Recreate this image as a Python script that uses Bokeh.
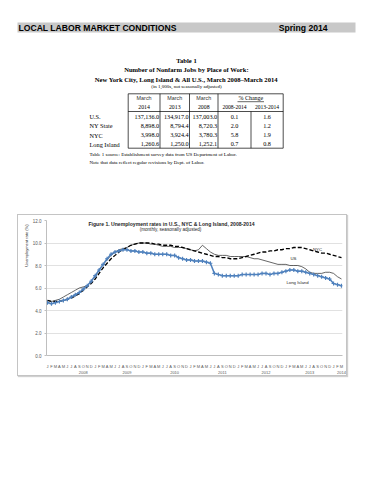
import numpy as np
from bokeh.plotting import figure
from bokeh.models import Range1d, FixedTicker, Label, Spacer, NumeralTickFormatter, Title
from bokeh.layouts import column, row
from bokeh.embed import file_html
from bokeh.resources import INLINE
from bokeh.core.properties import value

# ---------------- data ----------------
page_title = "LOCAL LABOR MARKET CONDITIONS"
page_season = "Spring 2014"
table_titles = ["Table 1", "Number of Nonfarm Jobs by Place of Work:",
                "New York City, Long Island & All U.S., March 2008\u2013March 2014"]
table_subtitle = "(in 1,000s, not seasonally adjusted)"
col_months = ["March", "March", "March"]
col_years = ["2014", "2013", "2008"]
chg_header = "% Change"
chg_periods = ["2008-2014", "2013-2014"]
regions = ["U.S.", "NY State", "NYC", "Long Island"]
jobs_2014 = [137136.0, 8898.0, 3998.0, 1260.6]
jobs_2013 = [134917.0, 8794.4, 3924.4, 1250.0]
jobs_2008 = [137003.0, 8720.3, 3780.3, 1252.1]
chg_0814 = [0.1, 2.0, 5.8, 0.7]
chg_1314 = [1.6, 1.2, 1.9, 0.8]
notes = ["Table 1 source: Establishment survey data from US Department of Labor.",
         "Note that data reflect regular revisions by Dept. of Labor."]

chart_title = "Figure 1. Unemployment rates in U.S., NYC & Long Island, 2008-2014"
chart_subtitle = "(monthly, seasonally adjusted)"
y_title = "Unemployment rate (%)"
month_letters = list("JFMAMJJASOND") * 6 + list("JFM")
years = ["2008", "2009", "2010", "2011", "2012", "2013", "2014"]
year_label_month = [9, 20, 32, 44, 55, 66, 74]
y_ticks = [0, 2, 4, 6, 8, 10, 12]

us = [4.9, 4.8, 4.9, 5.0, 5.2, 5.4, 5.6, 5.8, 6.0, 6.1, 6.2, 6.6,
      7.0, 7.6, 8.1, 8.5, 8.9, 9.2, 9.4, 9.5, 9.6, 9.8, 9.9, 10.0,
      10.0, 10.0, 9.9, 9.9, 9.8, 9.7, 9.7, 9.7, 9.6, 9.6, 9.6, 9.5,
      9.4, 9.3, 9.4, 9.8, 9.5, 9.2, 9.0, 8.9, 8.9, 8.9, 8.8, 8.8,
      8.8, 8.8, 8.8, 8.7, 8.6, 8.6, 8.5, 8.4, 8.3, 8.2, 8.1, 8.1,
      8.1, 8.0, 8.0, 8.0, 7.9, 7.7, 7.4, 7.3, 7.3, 7.3, 7.4, 7.4,
      7.3, 7.0, 6.8]
nyc = [4.9, 4.8, 4.8, 4.8, 4.9, 5.0, 5.1, 5.3, 5.5, 5.8, 6.1, 6.4,
       6.8, 7.3, 7.8, 8.2, 8.6, 8.9, 9.2, 9.4, 9.6, 9.8, 9.9, 10.0,
       10.0, 10.0, 10.0, 9.9, 9.9, 9.8, 9.8, 9.8, 9.7, 9.7, 9.6, 9.5,
       9.4, 9.3, 9.2, 9.1, 9.0, 8.9, 8.8, 8.8, 8.7, 8.7, 8.6, 8.6,
       8.6, 8.7, 8.8, 8.9, 9.0, 9.1, 9.2, 9.2, 9.3, 9.3, 9.4, 9.4,
       9.5, 9.5, 9.6, 9.6, 9.6, 9.5, 9.4, 9.3, 9.2, 9.1, 9.1, 9.0,
       8.9, 8.8, 8.7]
long_island = [4.7, 4.6, 4.7, 4.8, 4.9, 5.0, 5.2, 5.4, 5.6, 5.9, 6.2, 6.6,
               7.1, 7.6, 8.1, 8.6, 9.0, 9.2, 9.3, 9.4, 9.4, 9.3, 9.3, 9.2,
               9.2, 9.1, 9.1, 9.0, 9.0, 9.0, 9.0, 8.9, 8.9, 8.7, 8.6, 8.5,
               8.5, 8.4, 8.4, 8.4, 8.3, 8.2, 7.3, 7.2, 7.1, 7.1, 7.1, 7.1,
               7.1, 7.2, 7.2, 7.2, 7.2, 7.2, 7.3, 7.3, 7.2, 7.3, 7.3, 7.4,
               7.5, 7.6, 7.6, 7.5, 7.5, 7.4, 7.3, 7.2, 7.1, 7.0, 6.9, 6.8,
               6.4, 6.3, 6.2]

SERIF = "Liberation Serif"
SANS = "Liberation Sans"

# ---------------- top part: header + table ----------------
W1, H1 = 363, 214
t = figure(width=W1, height=H1, x_range=Range1d(0, W1), y_range=Range1d(H1, 0),
           toolbar_location=None, output_backend="svg", min_border=0,
           x_axis_location=None, y_axis_location=None, outline_line_color=None)
t.grid.visible = False

def txt(xs, ys, texts, size, font=SERIF, bold=False, align="left", color="black"):
    t.text(x=xs, y=ys, text=texts,
           text_font=value(font), text_font_size=value(f"{size}px"),
           text_font_style="bold" if bold else "normal",
           text_align=align, text_baseline="middle", text_color=color)

# header bar
t.quad(left=17, right=355, top=22, bottom=32, fill_color="#C8C8C8", line_color=None)
txt([18], [27.3], [page_title], 8.6, font=SANS, bold=True)
txt([327], [27.3], [page_season], 8.6, font=SANS, bold=True, align="right")

# titles
txt([186, 186, 186], [60, 69.3, 78.5], table_titles, 6.6, bold=True, align="center")
txt([186], [86.2], [table_subtitle], 5.0, align="center")

# table frame
bx0, bx1, by0, by1 = 127.7, 282.7, 93.3, 147.7
col_edges = [127.7, 159.5, 189.0, 217.5]
t.quad(left=bx0, right=bx1, top=by0, bottom=by1, fill_color=None,
       line_color="black", line_width=0.7)
t.segment(x0=col_edges[1:], y0=[by0] * 3, x1=col_edges[1:], y1=[by1] * 3,
          line_color="black", line_width=0.7)
t.segment(x0=[250.5], y0=[111], x1=[250.5], y1=[by1], line_color="black", line_width=0.7)
t.segment(x0=[bx0], y0=[111], x1=[bx1], y1=[111], line_color="black", line_width=0.7)

col_centers = [(col_edges[i] + col_edges[i + 1]) / 2 for i in range(3)]
txt(col_centers, [97.8] * 3, col_months, 5.4, font=SANS, align="center", color="#333333")
txt(col_centers, [106.5] * 3, col_years, 5.8, align="center")
txt([250.3], [97.8], [chg_header], 6.0, align="center")
t.segment(x0=[237], y0=[101.2], x1=[263.5], y1=[101.2], line_color="black", line_width=0.6)
txt([234, 266.5], [106.5, 106.5], chg_periods, 5.6, align="center")

row_y = [116.0, 125.2, 134.5, 143.6]
txt([89] * 4, row_y, regions, 6.3)
for edge, vals in zip(col_edges[1:], [jobs_2014, jobs_2013, jobs_2008]):
    txt([edge - 0.8] * 4, row_y, [f"{v:,.1f}" for v in vals], 6.2, align="right")
txt([234] * 4, row_y, [f"{v:.1f}" for v in chg_0814], 6.2, align="center")
txt([266.5] * 4, row_y, [f"{v:.1f}" for v in chg_1314], 6.2, align="center")

txt([89, 89], [153.8, 162.4], notes, 5.0)

# ---------------- chart ----------------
W2, H2 = 330, 162
OX, OY = 18, 215          # page position of chart canvas (inside its 1px border)
FL, FR, FT, FB = 28, 6, 5, 21
p = figure(width=W2, height=H2, x_range=Range1d(-0.25, 74.25), y_range=Range1d(0, 12),
           toolbar_location=None, output_backend="svg",
           min_border_left=FL, min_border_right=FR, min_border_top=FT, min_border_bottom=FB,
           outline_line_color=None)
p.styles = {"border": "1px solid #C4C4C4", "box-shadow": "1px 1px 1px #D0D0D0"}

fw = W2 - FL - FR
fh = H2 - FT - FB
def cx(page_x):
    return -0.25 + (page_x - OX - FL) * 74.5 / fw
def cy(page_y):
    return 12 - (page_y - OY - FT) * 12.0 / fh

grey = "#595959"
p.yaxis.ticker = FixedTicker(ticks=y_ticks)
p.yaxis.formatter = NumeralTickFormatter(format="0.0")
p.yaxis.major_label_text_font_size = "4.5px"
p.yaxis.major_label_text_color = grey
p.yaxis.major_label_text_font = SANS
p.yaxis.axis_line_color = "#BFBFBF"
p.yaxis.major_tick_line_color = "#BFBFBF"
p.yaxis.major_tick_out = 2
p.yaxis.major_tick_in = 0
p.yaxis.minor_tick_line_color = None
p.yaxis.major_label_standoff = 3
p.ygrid.grid_line_color = "#D9D9D9"
p.ygrid.grid_line_width = 0.8
p.xgrid.visible = False

months_idx = list(range(len(month_letters)))
overrides = {i: m for i, m in zip(months_idx, month_letters)}
for k, yr in zip(year_label_month, years):
    overrides[k] = month_letters[k] + "\n" + yr
p.xaxis.ticker = FixedTicker(ticks=months_idx)
p.xaxis.major_label_overrides = overrides
p.xaxis.major_label_text_font_size = "4px"
p.xaxis.major_label_text_line_height = 1.25
p.xaxis.major_label_text_color = grey
p.xaxis.major_label_text_font = SANS
p.xaxis.axis_line_color = "#BFBFBF"
p.xaxis.major_tick_line_color = None
p.xaxis.minor_tick_line_color = None
p.xaxis.major_label_standoff = 2

p.add_layout(Title(text=y_title, align="right", text_font_size="4px", text_font=SANS,
                   text_font_style="normal", text_color="#262626", standoff=2, offset=4), "left")

p.line(months_idx, us, line_color="#3F3F3F", line_width=0.8)
p.line(months_idx, nyc, line_color="black", line_width=1.3, line_dash="4 2")
p.line(months_idx, long_island, line_color="#4F81BD", line_width=1.5)
p.scatter(months_idx, long_island, marker="cross", size=4, line_color="#4F81BD", line_width=1.2)

def lab(px_, py_, text, size, bold=False, align="center"):
    p.add_layout(Label(x=cx(px_), y=cy(py_), text=text, text_font=SANS,
                       text_font_size=f"{size}px", text_font_style="bold" if bold else "normal",
                       text_align=align, text_baseline="middle", text_color="#262626"))

lab(171, 223.5, chart_title, 5.1, bold=True)
lab(170, 229, chart_subtitle, 4.6)
lab(317, 249, "NYC", 4.3)
lab(293, 258, "US", 4.3)
lab(297, 282, "Long Island", 4.3)

layout = column(t, row(Spacer(width=17, height=H2), p, Spacer(width=W1 - 17 - W2 - 2, height=H2), spacing=0),
                spacing=0)
open("out.html", "w").write(file_html(layout, INLINE))
